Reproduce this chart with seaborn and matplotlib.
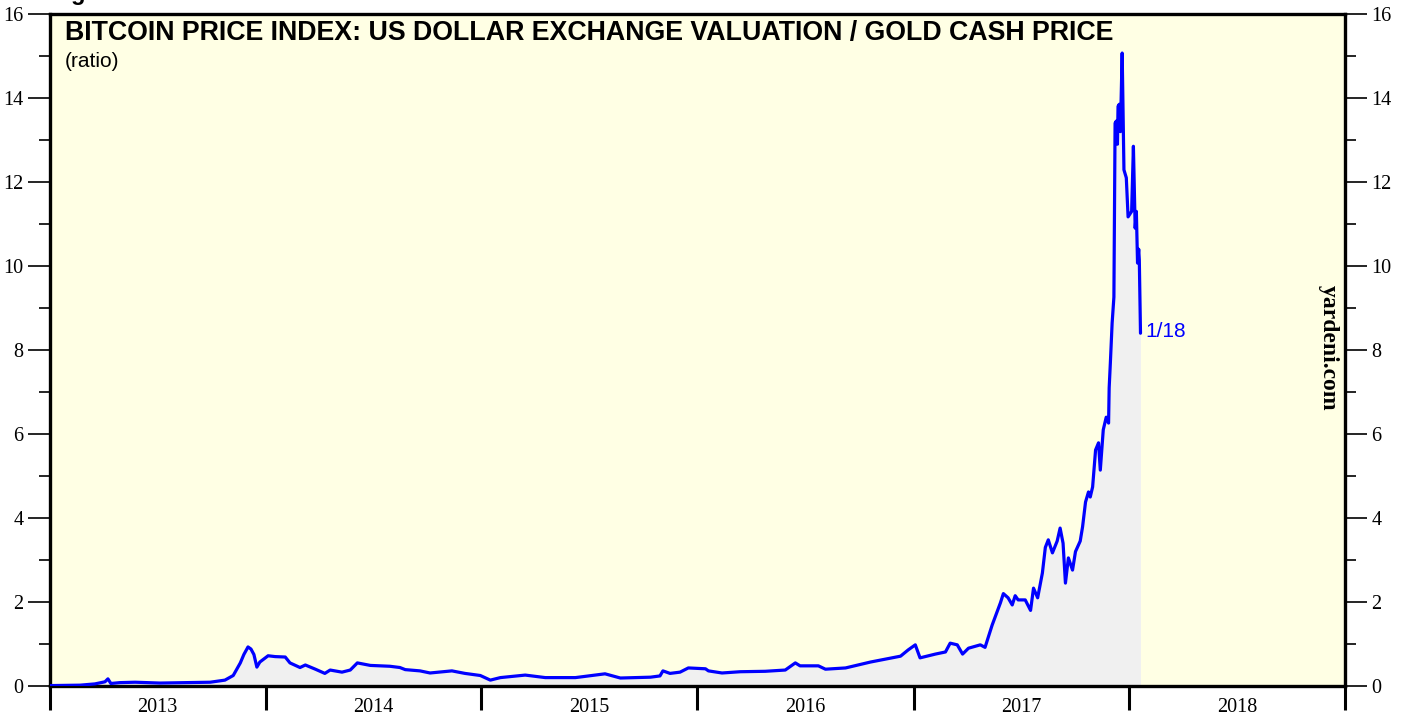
import pandas as pd
import matplotlib.pyplot as plt
import matplotlib.dates as mdates
import seaborn as sns

# Bitcoin price / gold price ratio
dates = [
    "2013-01-01", "2013-02-21", "2013-03-18", "2013-04-04", "2013-04-09", "2013-04-14",
    "2013-04-29", "2013-05-25", "2013-07-06", "2013-08-17", "2013-09-29", "2013-10-24",
    "2013-11-07", "2013-11-19", "2013-11-25", "2013-12-02", "2013-12-07", "2013-12-12",
    "2013-12-17", "2013-12-22", "2014-01-05", "2014-01-17", "2014-02-03", "2014-02-11",
    "2014-02-28", "2014-03-09", "2014-03-26", "2014-04-11", "2014-04-20", "2014-05-10",
    "2014-05-24", "2014-06-05", "2014-06-27", "2014-07-30", "2014-08-16", "2014-08-25",
    "2014-09-19", "2014-10-06", "2014-11-12", "2014-12-04", "2014-12-30", "2015-01-16",
    "2015-02-02", "2015-03-16", "2015-04-19", "2015-06-09", "2015-07-29", "2015-08-24",
    "2015-10-14", "2015-10-30", "2015-11-04", "2015-11-16", "2015-12-03", "2015-12-17",
    "2016-01-15", "2016-01-20", "2016-02-12", "2016-03-14", "2016-04-25", "2016-05-29",
    "2016-06-15", "2016-06-23", "2016-07-24", "2016-08-05", "2016-09-08", "2016-10-20",
    "2016-12-10", "2016-12-23", "2017-01-04", "2017-01-12", "2017-02-07", "2017-02-24",
    "2017-03-04", "2017-03-16", "2017-03-25", "2017-04-04", "2017-04-24", "2017-05-02",
    "2017-05-14", "2017-05-28", "2017-06-02", "2017-06-10", "2017-06-17", "2017-06-22",
    "2017-06-27", "2017-07-09", "2017-07-18", "2017-07-23", "2017-07-30", "2017-08-07",
    "2017-08-12", "2017-08-17", "2017-08-24", "2017-09-01", "2017-09-06", "2017-09-11",
    "2017-09-15", "2017-09-20", "2017-09-27", "2017-10-02", "2017-10-10", "2017-10-14",
    "2017-10-19", "2017-10-24", "2017-10-27", "2017-10-31", "2017-11-05", "2017-11-10",
    "2017-11-13", "2017-11-18", "2017-11-23", "2017-11-27", "2017-11-28", "2017-11-30",
    "2017-12-03", "2017-12-06", "2017-12-08", "2017-12-10", "2017-12-12", "2017-12-13",
    "2017-12-15", "2017-12-17", "2017-12-20", "2017-12-22", "2017-12-23", "2017-12-27",
    "2017-12-30", "2018-01-05", "2018-01-08", "2018-01-10", "2018-01-11", "2018-01-13",
    "2018-01-15", "2018-01-17", "2018-01-18", "2018-01-20",
]
ratio = [
    0.01, 0.02, 0.05, 0.10, 0.17, 0.06,
    0.08, 0.09, 0.07, 0.08, 0.09, 0.14,
    0.25, 0.55, 0.75, 0.93, 0.88, 0.75,
    0.45, 0.57, 0.72, 0.70, 0.69, 0.55,
    0.44, 0.50, 0.40, 0.30, 0.38, 0.33,
    0.38, 0.55, 0.49, 0.47, 0.44, 0.39,
    0.36, 0.31, 0.36, 0.30, 0.25, 0.14,
    0.20, 0.26, 0.20, 0.20, 0.29, 0.19,
    0.21, 0.24, 0.36, 0.30, 0.33, 0.43,
    0.41, 0.36, 0.31, 0.34, 0.35, 0.38,
    0.55, 0.48, 0.48, 0.40, 0.43, 0.57,
    0.71, 0.86, 0.98, 0.67, 0.76, 0.81,
    1.02, 0.98, 0.76, 0.90, 0.98, 0.92,
    1.45, 1.98, 2.20, 2.10, 1.93, 2.15,
    2.05, 2.05, 1.80, 2.33, 2.10, 2.69,
    3.30, 3.48, 3.17, 3.45, 3.76, 3.40,
    2.45, 3.05, 2.76, 3.20, 3.45, 3.79,
    4.38, 4.62, 4.50, 4.74, 5.62, 5.79,
    5.14, 6.10, 6.40, 6.26, 7.10, 7.69,
    8.64, 9.26, 13.40, 13.45, 12.90, 13.80,
    13.85, 13.20, 15.07, 13.20, 12.29, 12.10,
    11.17, 11.30, 12.85, 11.50, 10.90, 11.30,
    10.07, 10.40, 10.14, 8.40,
]
year_labels = ["2013", "2014", "2015", "2016", "2017", "2018"]
last_label = "1/18"

df = pd.DataFrame({"date": pd.to_datetime(dates), "ratio": ratio})

sns.set_style("ticks")
plt.rcParams["font.family"] = ["Liberation Sans", "DejaVu Sans"]
plt.rcParams["text.color"] = "black"
plt.rcParams["xtick.color"] = "black"
plt.rcParams["ytick.color"] = "black"

fig = plt.figure(figsize=(14.06, 7.19), dpi=100)
ax = fig.add_axes([50 / 1406, 33 / 719, 1295 / 1406, 672 / 719])
ax.set_facecolor("#ffffe4")

ax.fill_between(df["date"], 0, df["ratio"], color="#f0f0f0", lw=0, zorder=1)
sns.lineplot(data=df, x="date", y="ratio", color="#0000ff", lw=2.3, ax=ax, zorder=3)

ax.set_xlim(pd.Timestamp("2013-01-01"), pd.Timestamp("2019-01-01"))
ax.set_ylim(0, 16)
ax.set_xlabel("")
ax.set_ylabel("")

# year ticks at boundaries, labels centred on mid-year
ax.xaxis.set_major_locator(mdates.YearLocator())
ax.xaxis.set_major_formatter(plt.NullFormatter())
mids = [pd.Timestamp(f"{y}-07-02") for y in year_labels]
ax.set_xticks(mids, minor=True)
ax.set_xticklabels(year_labels, minor=True)
ax.tick_params(axis="x", which="major", length=17, width=2.2, direction="out")
ax.tick_params(axis="x", which="minor", length=0, pad=9,
               labelsize=14.5, labelfontfamily="Liberation Serif")

ax.set_yticks(range(0, 17, 2))
ax.set_yticks(range(1, 16, 2), minor=True)
ax.tick_params(axis="y", which="major", length=16, width=1.2, direction="out",
               left=True, right=True, labelleft=True, labelright=True,
               labelsize=14.5, labelfontfamily="Liberation Serif", pad=3)
ax.tick_params(axis="y", which="minor", length=8, width=1.2, direction="out",
               left=True, right=True)

for side in ["left", "right", "bottom", "top"]:
    ax.spines[side].set_visible(True)
    ax.spines[side].set_linewidth(2.4)
    ax.spines[side].set_color("black")

ax.text(0.0115, 0.991, "BITCOIN PRICE INDEX: US DOLLAR EXCHANGE VALUATION / GOLD CASH PRICE",
        transform=ax.transAxes, fontsize=19.3, fontweight="bold", va="top", ha="left")
ax.text(0.0115, 0.943, "(ratio)", transform=ax.transAxes, fontsize=15, va="top", ha="left")

ax.text(df["date"].iloc[-1] + pd.Timedelta(days=9), df["ratio"].iloc[-1] + 0.05, last_label,
        color="#0000ff", fontsize=15, va="center", ha="left")

fig.text(1328 / 1406, 1 - 348 / 719, "yardeni.com", rotation=-90, fontsize=17,
         fontweight="bold", family="Liberation Serif", ha="center", va="center")

fig.text(50 / 1406, 1.0, "Figure 1.", fontsize=17, fontweight="bold",
         ha="left", va="baseline")

fig.savefig("out.png", dpi=100)
